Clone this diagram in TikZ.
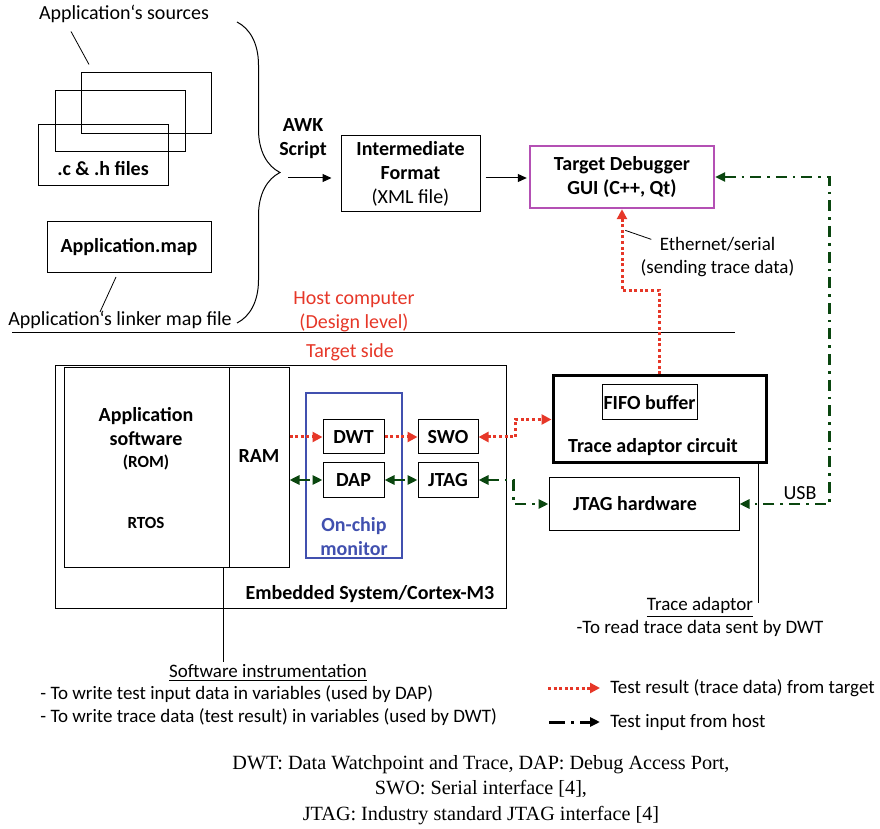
\documentclass[tikz,border=0pt]{standalone}
\usepackage{fontspec}
\setmainfont{Carlito}
\newfontfamily\captionserif{Liberation Serif}
\usepackage{tikz}
\usetikzlibrary{positioning}
\usetikzlibrary{arrows.meta}
\usetikzlibrary{decorations.pathreplacing}

\definecolor{tracered}{RGB}{230,55,40}
\definecolor{hostgreen}{RGB}{10,70,15}
\definecolor{guipurple}{RGB}{180,80,180}
\definecolor{monitorblue}{RGB}{65,80,175}

\begin{document}
\begin{tikzpicture}[
    x=0.5pt, y=-0.5pt,
    >={Triangle[length=4.5pt, width=4pt]},
    box/.style={draw, line width=0.5pt, inner sep=0pt, align=center, font=\bfseries},
    file/.style={draw, line width=0.5pt, minimum width=65pt, minimum height=30.5pt},
    note/.style={inner sep=0pt, align=center},
    small/.style={font=\fontsize{9.5}{11.5}\selectfont},
    arrow/.style={->, line width=0.5pt},
    trace/.style={draw=tracered, line width=1.5pt, dash pattern=on 1.5pt off 1.3pt, >={Triangle[length=5pt, width=5pt]}},
    testin/.style={draw=hostgreen, line width=1.4pt, dash pattern=on 5.5pt off 3pt on 1.3pt off 3pt, >={Triangle[length=5pt, width=4.5pt]}}
]
    \useasboundingbox (0,0) rectangle (880,829);

    % Host side: sources, map file and the AWK step
    \node[note] (srcnote) at (124,14) {Application‘s sources};
    \node[file] (src3) at (146.5,103.5) {};
    \node[file] (src2) at (120,121.5) {};
    \node[file] (src1) at (103,155.5) {};
    \node[note, font=\bfseries] (srcname) at (103,169) {.c \& .h files};
    \draw (src3.north west) ++(8,-8) -- ++(-18,-33);

    \node[box, minimum width=82pt, minimum height=25.5pt] (mapfile) at (129,247) {Application.map};
    \node[note] (mapnote) at (120,320) {Application‘s linker map file};
    \draw (mapfile.south) ++(-13,4) -- ++(-16,35);

    \coordinate (brtop) at (237,22);
    \coordinate (brbot) at (237,323);
    \draw[decorate, decoration={brace, amplitude=21.5pt}, line width=0.5pt] (brtop) -- (brbot);

    \node[note, font=\bfseries] (awk) at (303,139) {AWK\\Script};
    \coordinate (awkout) at (288,178);

    \node[box, minimum width=69.5pt, minimum height=38pt] (inter) at (410.5,174) {Intermediate\\Format\\\mdseries (XML file)};
    \node[box, draw=guipurple, line width=1.2pt, minimum width=92pt, minimum height=31pt] (gui) at (622,177) {Target Debugger\\GUI (C++, Qt)};

    \draw[arrow, shorten >=4.5pt] (awkout) -- (awkout -| inter.west);
    \draw[arrow, shorten <=2.5pt, shorten >=1pt] (inter.east |- awkout) -- (awkout -| gui.west);

    \node[note, small] (ethnote) at (717.5,257.5) {Ethernet/serial\\(sending trace data)};
    \draw (ethnote.north west) ++(11,2) -- ++(-26,-9);

    % Host / target border
    \draw[line width=0.5pt] (12,333) -- (735,333);
    \node[note, text=tracered] (hostlbl) at (354,311.5) {Host computer\\(Design level)};
    \node[note, text=tracered] (targetlbl) at (350,352) {Target side};

    % Target: embedded system
    \node[box, minimum width=225.5pt, minimum height=121pt] (emb) at (280.5,487) {};
    \node[note, font=\bfseries] (embname) at (370,594) {Embedded System/Cortex-M3};

    \node[box, minimum width=82.5pt, minimum height=99.5pt] (app) at (146.5,467.5) {};
    \node[note, font=\bfseries] (appname) at (146,427) {Application\\software};
    \node[note, font=\fontsize{8.5}{10}\selectfont\bfseries] (rom) at (146,462) {(ROM)};
    \node[note, font=\fontsize{8.5}{10}\selectfont\bfseries] (rtos) at (146,523) {RTOS};

    \node[box, minimum width=30pt, minimum height=99.5pt] (ram) at (259,467.5) {};
    \node[note, font=\bfseries] (ramname) at (259,456) {RAM};

    \node[box, draw=monitorblue, line width=0.75pt, minimum width=48pt, minimum height=82.5pt] (monitor) at (354,475.5) {};
    \node[note, font=\bfseries, text=monitorblue] (monname) at (354,537) {On-chip\\monitor};

    \node[box, minimum width=30.5pt, minimum height=17pt] (dwt) at (353.5,437) {DWT};
    \node[box, minimum width=30.5pt, minimum height=17pt] (dap) at (353.5,480) {DAP};
    \node[box, minimum width=30pt, minimum height=17pt] (swo) at (448,437) {SWO};
    \node[box, minimum width=30pt, minimum height=17pt] (jtag) at (448,480) {JTAG};

    % Trace adaptor and JTAG hardware
    \node[box, line width=1.5pt, minimum width=106.5pt, minimum height=43.5pt] (tac) at (659.5,419.5) {};
    \node[box, minimum width=47.5pt, minimum height=17.5pt] (fifo) at (649.5,402.5) {FIFO buffer};
    \node[note, font=\bfseries] (tacname) at (653,447) {Trace adaptor circuit};
    \node[box, minimum width=95pt, minimum height=26pt] (jhw) at (644,504) {JTAG hardware\hspace{9pt}};

    % Trace data path
    \draw[trace, ->] (ram.east |- dwt) -- (dwt.west);
    \draw[trace, ->] (dwt.east) -- (swo.west);
    \draw[trace, <->] (swo.east) -- ++(37,0) |- (tac.west);
    \draw[trace, ->] (tac.north) -- ++(0,-84) -| (gui.south);

    % Test input path
    \draw[testin, <->] (ram.east |- dap) -- (dap.west);
    \draw[testin, <->] (dap.east) -- (jtag.west);
    \draw[testin, <->] (jtag.east) -- ++(35,0) |- (jhw.west);
    \draw[testin, <->] (gui.east) -- ++(114,0) |- (jhw.east);
    \node[note] (usb) at (800,493) {USB};

    % Callouts
    \draw[line width=0.5pt] (app.south east) ++(-6,0) -- ++(0,94);
    \node[note, small] (swtitle) at (268,673) {\underline{Software instrumentation}};
    \node[note, small, align=left, anchor=west] (swbody) at (40,705.5) {- To write test input data in variables (used by DAP)\\- To write trace data (test result) in variables (used by DWT)};

    \draw[line width=0.5pt] (tac.south east) ++(-9,0) -- ++(0,138);
    \node[note, small] (tatitle) at (700,607) {\underline{Trace adaptor}};
    \node[note, small] (tabody) at (700,628) {-To read trace data sent by DWT};

    % Legend
    \node[note, small, anchor=west] (lgtrace) at (610,688) {Test result (trace data) from target};
    \node[note, small, anchor=west] (lgtest) at (610,722) {Test input from host};
    \draw[trace, ->] ([xshift=-31pt]lgtrace.west) -- ([xshift=-5pt]lgtrace.west);
    \draw[testin, draw=black, line width=1.5pt, dash pattern=on 8pt off 3pt on 1.5pt off 3pt, ->] ([xshift=-30.5pt]lgtest.west) -- ([xshift=-5pt]lgtest.west);

    % Abbreviations
    \node[note, font=\captionserif\fontsize{10.1}{12.75}\selectfont] (abbrev) at (481,790) {DWT: Data Watchpoint and Trace, DAP: Debug Access Port,\\SWO: Serial interface [4],\\JTAG: Industry standard JTAG interface [4]};
\end{tikzpicture}
\end{document}
